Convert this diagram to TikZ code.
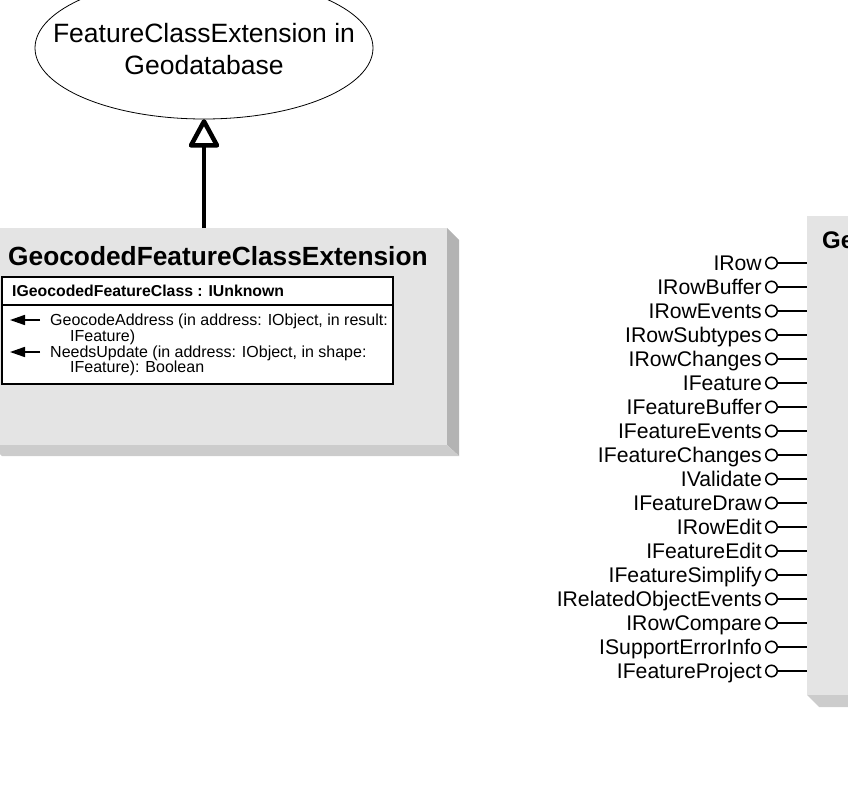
\documentclass[tikz,border=0pt]{standalone}
\usepackage{fontspec}
\setmainfont{Liberation Sans}
\usetikzlibrary{shapes.geometric,arrows.meta}
\definecolor{boxgray}{HTML}{E4E4E4}
\definecolor{sidegray}{HTML}{B3B3B3}
\definecolor{bottomgray}{HTML}{CCCCCC}
\tikzset{
  classbox/.style={fill=boxgray, inner sep=0pt, anchor=north west},
  classtitle/.style={anchor=base west, inner sep=0pt, font=\bfseries\fontsize{26.3}{30}\selectfont},
  ifacehead/.style={anchor=base west, inner sep=0pt, font=\bfseries\fontsize{15.8}{18}\selectfont},
  methodtxt/.style={anchor=base west, inner sep=0pt, font=\fontsize{16}{16}\selectfont},
  methodarrow/.style={line width=1.7pt, -{Triangle[length=15pt,width=10pt]}},
  lbl/.style={anchor=base east, inner sep=0pt, font=\fontsize{21.2}{24}\selectfont},
  lolly/.style={circle, draw, line width=1.5pt, minimum size=11.5pt, inner sep=0pt, fill=white},
  lline/.style={line width=1.5pt},
  genline/.style={line width=4.5pt},
  genhead/.style={line width=4.5pt, line join=round, fill=white},
}
\begin{document}
\begin{tikzpicture}[x=1pt,y=-1pt]
\useasboundingbox (0,0) rectangle (848,784);

% ---------- left class box ----------
\fill[sidegray] (447,228) -- (459,240) -- (459,456) -- (447,445) -- cycle;
\fill[bottomgray] (-10,445) -- (447,445) -- (459,456) -- (2,456) -- cycle;
\node[classbox, minimum width=457pt, minimum height=217pt] (lbox) at (-10,228) {};
\node[classtitle] (ltitle) at (8,265) {GeocodedFeatureClassExtension};

\node[draw, line width=1.5pt, fill=white, inner sep=0pt, anchor=north west,
      minimum width=391pt, minimum height=107pt] (ibox) at (1,276) {};
\coordinate (hl) at (1,305);
\draw[line width=1.2pt] (hl) -- (hl -| ibox.east);
\node[ifacehead] (ihead) at (12,296) {IGeocodedFeatureClass : IUnknown};

\node[methodtxt] (m1) at (50,325) {GeocodeAddress (in address: IObject, in result:};
\node[methodtxt] (m1b) at (70,341) {IFeature)};
\node[methodtxt] (m2) at (50,357) {NeedsUpdate (in address: IObject, in shape:};
\node[methodtxt] (m2b) at (70,372) {IFeature): Boolean};
\draw[methodarrow] ([xshift=-10pt,yshift=5pt]m1.base west) -- ++(-30,0);
\draw[methodarrow] ([xshift=-10pt,yshift=5pt]m2.base west) -- ++(-30,0);

% ---------- ellipse (base class) ----------
\node[ellipse, draw, line width=0.8pt, minimum width=338pt, minimum height=142pt, inner sep=0pt] (ell) at (204,48) {};
\node[align=center, inner sep=0pt, font=\fontsize{26.5}{32}\selectfont] (elltxt) at (204,49) {FeatureClassExtension in\\Geodatabase};

% generalization: line + hollow triangle head
\coordinate (gbase) at ([yshift=-26pt]ell.south);
\draw[genline] (ell.south |- lbox.north) -- (gbase);
\draw[genhead] ([yshift=-2pt]ell.south) -- ([xshift=-13pt]gbase) -- ([xshift=13pt]gbase) -- cycle;

% ---------- right class box ----------
\fill[bottomgray] (807,695) -- (870,695) -- (870,707) -- (819,707) -- cycle;
\node[classbox, minimum width=60pt, minimum height=479pt] (rbox) at (807,216) {};
\node[anchor=base west, inner sep=0pt, font=\bfseries\fontsize{24}{28}\selectfont] (rtitle) at (822,248) {Ge};

\foreach \nm [count=\i from 0] in {IRow,IRowBuffer,IRowEvents,IRowSubtypes,IRowChanges,IFeature,IFeatureBuffer,IFeatureEvents,IFeatureChanges,IValidate,IFeatureDraw,IRowEdit,IFeatureEdit,IFeatureSimplify,IRelatedObjectEvents,IRowCompare,ISupportErrorInfo,IFeatureProject}{
  \node[lbl] (L\i) at (762,270+24*\i) {\nm};
  \node[lolly] (C\i) at (771.5,263+24*\i) {};
  \draw[lline] (C\i.east) -- (C\i.east -| rbox.west);
}
\end{tikzpicture}
\end{document}
